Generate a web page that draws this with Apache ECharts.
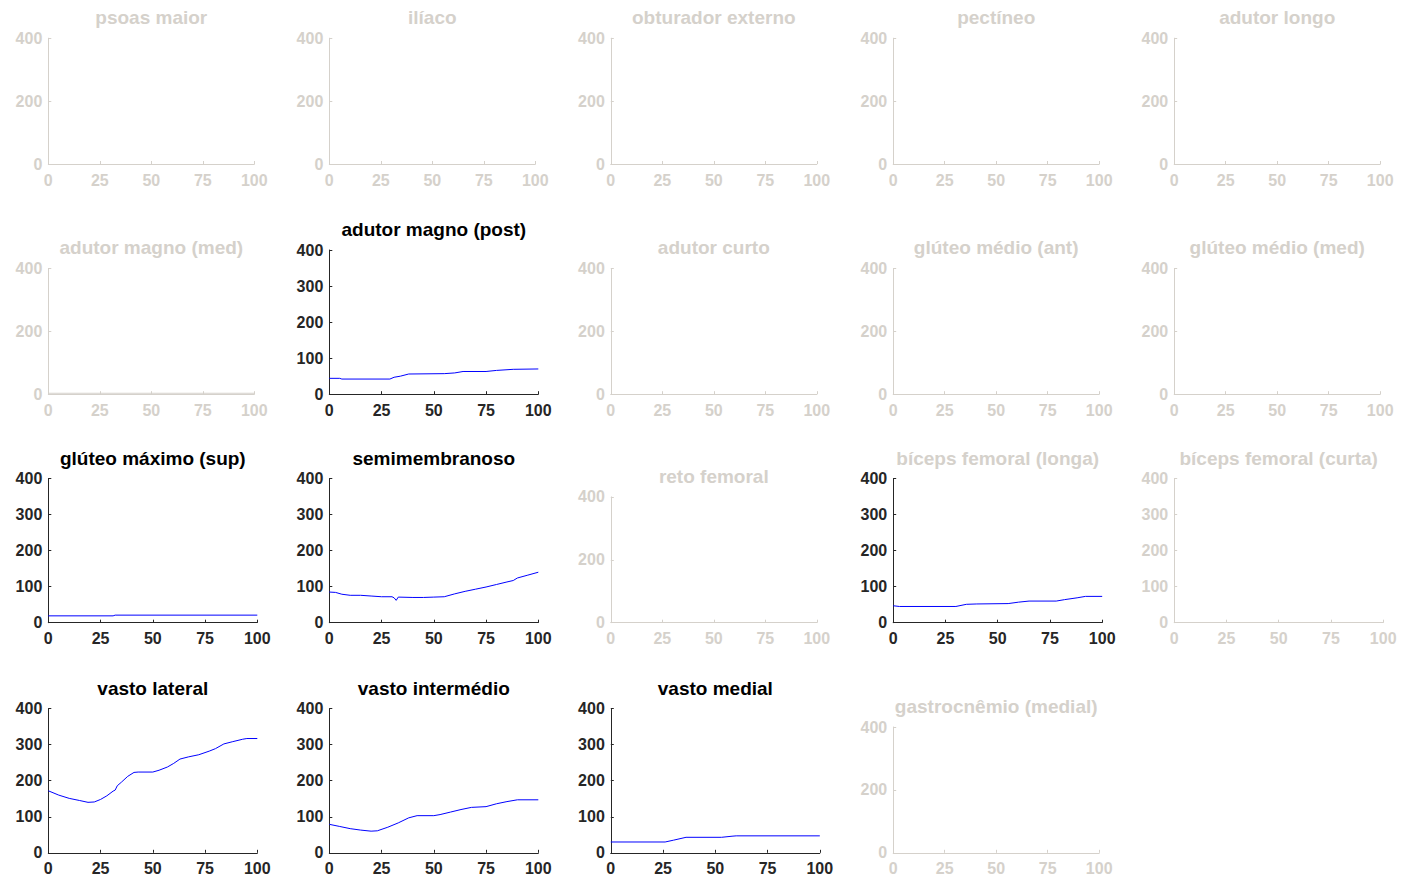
<!DOCTYPE html>
<html>
<head>
<meta charset="utf-8">
<script src="https://cdn.jsdelivr.net/npm/echarts@6/dist/echarts.min.js"></script>
<style>
  html, body { margin: 0; padding: 0; background: #ffffff; }
  #chart { width: 1402px; height: 880px; }
</style>
</head>
<body>
<div id="chart"></div>
<script>
// Muscle force curves (N) across the movement cycle (%)
const muscleNames = [
  'psoas maior', 'ilíaco', 'obturador externo', 'pectíneo', 'adutor longo',
  'adutor magno (med)', 'adutor magno (post)', 'adutor curto', 'glúteo médio (ant)', 'glúteo médio (med)',
  'glúteo máximo (sup)', 'semimembranoso', 'reto femoral', 'bíceps femoral (longa)', 'bíceps femoral (curta)',
  'vasto lateral', 'vasto intermédio', 'vasto medial', 'gastrocnêmio (medial)'
];

const xTicks = [0, 25, 50, 75, 100];
const yTicksFull = [0, 100, 200, 300, 400];
const yTicksSparse = [0, 200, 400];

const adutorMagnoMedX = [0, 100];
const adutorMagnoMedY = [3, 3];

const adutorMagnoPostX = [0, 5, 6, 29, 31, 34, 38, 55, 60, 64, 75, 80, 88, 100];
const adutorMagnoPostY = [44, 44, 42, 42, 47, 50, 56, 57, 59, 63, 63, 66, 69, 70];

const gluteoMaximoSupX = [0, 31, 32, 100];
const gluteoMaximoSupY = [19, 19, 21, 21];

const semimembranosoX = [0, 3, 6, 10, 15, 20, 25, 30, 31, 32, 33, 40, 45, 50, 55, 60, 65, 70, 75, 80, 85, 88, 90, 95, 100];
const semimembranosoY = [85, 84, 79, 76, 76, 74, 72, 72, 69, 62, 71, 70, 70, 71, 72, 80, 87, 93, 99, 106, 113, 117, 124, 132, 140];

const bicepsLongaX = [0, 3, 30, 35, 40, 55, 60, 65, 78, 82, 88, 92, 100];
const bicepsLongaY = [47, 45, 45, 51, 52, 53, 57, 60, 60, 64, 69, 73, 73];

const vastoLateralX = [0, 5, 10, 15, 19, 22, 25, 28, 31, 32, 33, 35, 38, 41, 43, 50, 53, 57, 60, 63, 67, 72, 77, 80, 84, 88, 93, 95, 100];
const vastoLateralY = [172, 160, 151, 145, 140, 141, 148, 158, 171, 174, 186, 196, 212, 223, 224, 224, 229, 238, 248, 260, 266, 272, 282, 289, 302, 308, 315, 317, 317];

const vastoIntermedioX = [0, 5, 10, 15, 20, 23, 28, 33, 38, 42, 50, 53, 58, 63, 68, 75, 80, 85, 90, 100];
const vastoIntermedioY = [79, 73, 67, 63, 60, 61, 71, 83, 97, 103, 103, 106, 113, 120, 126, 128, 136, 142, 147, 147];

const vastoMedialX = [0, 26, 30, 36, 53, 58, 60, 100];
const vastoMedialY = [30, 30, 35, 43, 43, 46, 47, 47];

const curves = {
  'adutor magno (med)': [adutorMagnoMedX, adutorMagnoMedY],
  'adutor magno (post)': [adutorMagnoPostX, adutorMagnoPostY],
  'glúteo máximo (sup)': [gluteoMaximoSupX, gluteoMaximoSupY],
  'semimembranoso': [semimembranosoX, semimembranosoY],
  'bíceps femoral (longa)': [bicepsLongaX, bicepsLongaY],
  'vasto lateral': [vastoLateralX, vastoLateralY],
  'vasto intermédio': [vastoIntermedioX, vastoIntermedioY],
  'vasto medial': [vastoMedialX, vastoMedialY]
};

// Highlighted muscles get dark titles; muscles with dark axes get the full tick set
const darkTitles = ['adutor magno (post)', 'glúteo máximo (sup)', 'semimembranoso',
  'vasto lateral', 'vasto intermédio', 'vasto medial'];
const darkAxes = darkTitles.concat(['bíceps femoral (longa)']);
const fullTickAxes = darkAxes.concat(['bíceps femoral (curta)']);

// ---- layout (pixels) ----
const colLeft = [48.3, 329.3, 610.8, 893.2, 1174.2];
const narrowWidth = 206;
const wideWidth = 209;
const rowBottom = [164, 394.2, 622.7, 852.8];
const fullHeight = 144.2;
const shortHeight = 125.8;

const INK = '#262626';
const GREY = '#d5d1cb';
const BLUE = '#0000ff';
const FONT = '"Liberation Sans", Arial, Helvetica, sans-serif';

const grids = [], xAxes = [], yAxes = [], series = [], graphics = [];

muscleNames.forEach((name, i) => {
  const row = Math.floor(i / 5), col = i % 5;
  const full = fullTickAxes.includes(name);
  const axisColor = darkAxes.includes(name) ? INK : GREY;
  const titleColor = darkTitles.includes(name) ? '#000000' : GREY;
  const w = full ? wideWidth : narrowWidth;
  const h = full ? fullHeight : shortHeight;
  const left = colLeft[col];
  const top = rowBottom[row] - h;

  grids.push({ left: left, top: top, width: w, height: h, containLabel: false });

  const labelStyle = { color: axisColor, fontFamily: FONT, fontSize: 16, fontWeight: 'bold' };
  xAxes.push({
    type: 'value', gridIndex: i, min: xTicks[0], max: xTicks[xTicks.length - 1],
    interval: xTicks[1] - xTicks[0],
    axisLine: { show: true, lineStyle: { color: axisColor, width: 1 } },
    axisTick: { show: true, inside: true, length: 3, lineStyle: { color: axisColor } },
    axisLabel: Object.assign({ margin: 8 }, labelStyle),
    splitLine: { show: false }
  });
  const yt = full ? yTicksFull : yTicksSparse;
  yAxes.push({
    type: 'value', gridIndex: i, min: yt[0], max: yt[yt.length - 1],
    interval: yt[1] - yt[0],
    axisLine: { show: true, lineStyle: { color: axisColor, width: 1 } },
    axisTick: { show: true, inside: true, length: 3, lineStyle: { color: axisColor } },
    axisLabel: Object.assign({ margin: 6 }, labelStyle),
    splitLine: { show: false }
  });

  graphics.push({
    type: 'text',
    x: left + w / 2,
    y: top - 20.5,
    style: {
      text: name, fill: titleColor, font: 'bold 19px ' + FONT,
      textAlign: 'center', textVerticalAlign: 'middle'
    }
  });

  const c = curves[name];
  if (c) {
    series.push({
      type: 'line', xAxisIndex: i, yAxisIndex: i,
      data: c[0].map((x, k) => [x, c[1][k]]),
      showSymbol: false, symbol: 'none', smooth: false,
      lineStyle: { color: darkAxes.includes(name) ? BLUE : GREY, width: 1 },
      silent: true, animation: false
    });
  }
});

const chart = echarts.init(document.getElementById('chart'), null, { renderer: 'svg' });
chart.setOption({
  animation: false,
  backgroundColor: '#ffffff',
  grid: grids,
  xAxis: xAxes,
  yAxis: yAxes,
  series: series,
  graphic: graphics
});
</script>
</body>
</html>
